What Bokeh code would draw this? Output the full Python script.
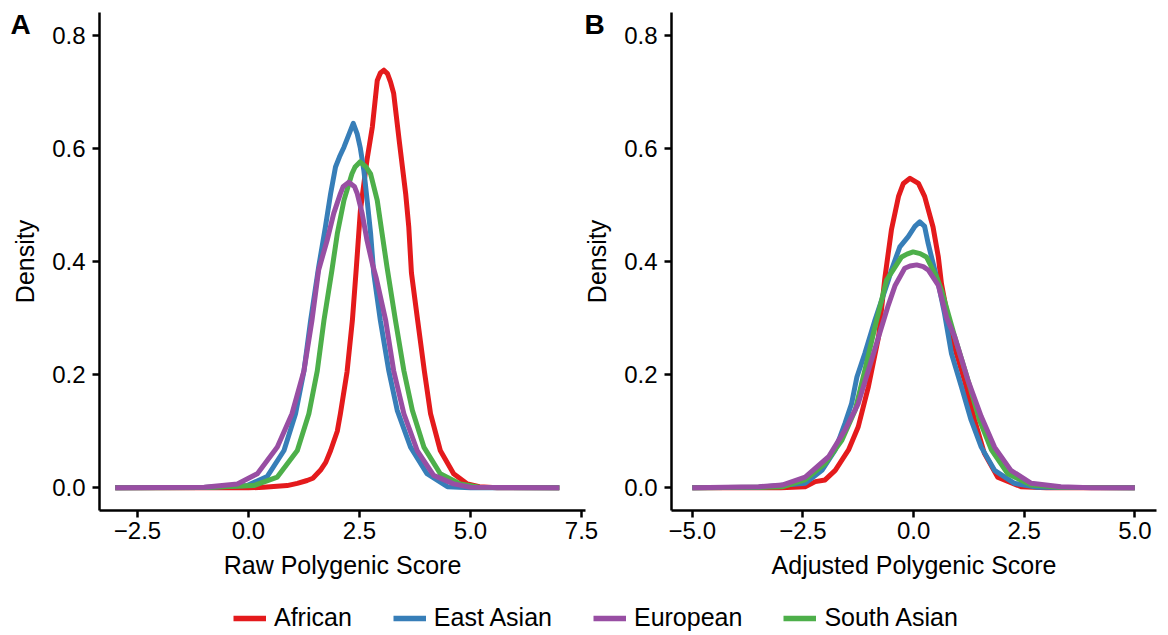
from bokeh.plotting import figure
from bokeh.models import Range1d, FixedTicker, Label, Legend, LegendItem
from bokeh.layouts import column, row
from bokeh.embed import file_html
from bokeh.resources import INLINE

groups = ["African", "East Asian", "European", "South Asian"]
colors = {"African": "#E41A1C", "East Asian": "#377EB8",
          "European": "#984EA3", "South Asian": "#4DAF4A"}
draw_order = ["African", "East Asian", "South Asian", "European"]

# ---- Panel A: raw polygenic score densities ----
raw_x_african = [-3.0, -1.0, 0.0, 0.34, 0.87, 1.1, 1.32, 1.45, 1.62, 1.74, 1.85, 2.0, 2.07, 2.22,
                 2.34, 2.43, 2.52, 2.67, 2.79, 2.9, 2.97, 3.05, 3.13, 3.2, 3.27, 3.4, 3.54, 3.61,
                 3.67, 3.81, 3.96, 4.1, 4.32, 4.62, 4.93, 5.2, 5.6, 7.0]
raw_y_african = [0.0, 0.0, 0.0, 0.001, 0.004, 0.008, 0.013, 0.017, 0.031, 0.045, 0.066, 0.10, 0.131,
                 0.205, 0.296, 0.39, 0.49, 0.58, 0.638, 0.72, 0.733, 0.738, 0.732, 0.717, 0.697,
                 0.61, 0.52, 0.461, 0.38, 0.296, 0.207, 0.131, 0.066, 0.025, 0.007, 0.002, 0.0, 0.0]

raw_x_east_asian = [-3.0, -1.0, -0.03, 0.42, 0.8, 1.06, 1.25, 1.4, 1.58, 1.73, 1.85, 1.96, 2.05,
                    2.15, 2.36, 2.45, 2.52, 2.6, 2.67, 2.75, 2.82, 2.97, 3.16, 3.35, 3.65, 4.02,
                    4.48, 5.0, 7.0]
raw_y_east_asian = [0.0, 0.0005, 0.004, 0.02, 0.066, 0.131, 0.207, 0.296, 0.39, 0.46, 0.52, 0.567,
                    0.585, 0.602, 0.644, 0.625, 0.60, 0.56, 0.51, 0.45, 0.38, 0.296, 0.207, 0.137,
                    0.072, 0.025, 0.002, 0.0, 0.0]

raw_x_european = [-3.0, -1.0, -0.25, 0.2, 0.65, 0.98, 1.25, 1.43, 1.58, 1.77, 1.92, 2.07, 2.13,
                  2.26, 2.39, 2.45, 2.56, 2.67, 2.79, 2.88, 3.09, 3.27, 3.5, 3.8, 4.17, 4.62, 5.0,
                  7.0]
raw_y_european = [0.0, 0.001, 0.007, 0.025, 0.072, 0.131, 0.207, 0.296, 0.385, 0.437, 0.485, 0.52,
                  0.532, 0.54, 0.532, 0.52, 0.485, 0.437, 0.396, 0.37, 0.296, 0.207, 0.131, 0.066,
                  0.022, 0.007, 0.001, 0.0]

raw_x_south_asian = [-3.0, -1.0, 0.12, 0.65, 1.1, 1.36, 1.55, 1.7, 1.88, 2.0, 2.15, 2.33, 2.4,
                     2.51, 2.65, 2.75, 2.9, 3.01, 3.12, 3.31, 3.5, 3.69, 3.95, 4.32, 4.77, 5.2, 7.0]
raw_y_south_asian = [0.0, 0.0005, 0.004, 0.019, 0.066, 0.131, 0.207, 0.296, 0.385, 0.449, 0.508,
                     0.555, 0.567, 0.576, 0.567, 0.555, 0.508, 0.449, 0.39, 0.296, 0.207, 0.137,
                     0.072, 0.025, 0.007, 0.001, 0.0]

# ---- Panel B: adjusted polygenic score densities ----
adj_x_african = [-5.0, -3.0, -2.45, -2.22, -2.0, -1.77, -1.47, -1.25, -1.02, -0.79, -0.65, -0.5,
                 -0.34, -0.23, -0.08, 0.11, 0.25, 0.44, 0.56, 0.63, 0.855, 1.15, 1.38, 1.6, 1.9,
                 2.43, 3.0, 5.0]
adj_y_african = [0.0, 0.0, 0.002, 0.011, 0.014, 0.031, 0.067, 0.108, 0.179, 0.267, 0.37, 0.456,
                 0.515, 0.538, 0.547, 0.538, 0.515, 0.461, 0.408, 0.361, 0.267, 0.19, 0.12, 0.061,
                 0.019, 0.002, 0.0, 0.0]

adj_x_east_asian = [-5.0, -3.5, -2.45, -2.07, -1.77, -1.55, -1.4, -1.28, -1.1, -0.87, -0.57, -0.5,
                    -0.31, -0.12, 0.03, 0.14, 0.25, 0.33, 0.44, 0.56, 0.7, 0.855, 1.08, 1.3, 1.53,
                    1.83, 2.28, 2.8, 5.0]
adj_y_east_asian = [0.0, 0.001, 0.008, 0.031, 0.067, 0.114, 0.149, 0.196, 0.238, 0.297, 0.367, 0.385,
                    0.426, 0.444, 0.462, 0.47, 0.462, 0.432, 0.397, 0.361, 0.308, 0.238, 0.179, 0.12,
                    0.072, 0.031, 0.008, 0.001, 0.0]

adj_x_european = [-5.0, -3.5, -2.97, -2.45, -1.92, -1.55, -1.25, -1.02, -0.79, -0.57, -0.42, -0.2,
                  -0.08, 0.07, 0.22, 0.33, 0.56, 0.75, 0.93, 1.23, 1.53, 1.83, 2.2, 2.66, 3.33, 4.0,
                  5.0]
adj_y_european = [0.0, 0.002, 0.005, 0.019, 0.055, 0.102, 0.149, 0.208, 0.267, 0.323, 0.357, 0.388,
                  0.392, 0.394, 0.391, 0.385, 0.358, 0.30, 0.267, 0.19, 0.126, 0.072, 0.031, 0.008,
                  0.002, 0.0, 0.0]

adj_x_south_asian = [-5.0, -3.5, -2.97, -2.45, -2.0, -1.62, -1.32, -1.1, -0.87, -0.61, -0.46, -0.27,
                     -0.15, -0.01, 0.15, 0.29, 0.52, 0.63, 0.93, 1.23, 1.49, 1.76, 2.13, 2.66, 3.3,
                     5.0]
adj_y_south_asian = [0.0, 0.001, 0.002, 0.014, 0.043, 0.084, 0.137, 0.208, 0.285, 0.367, 0.385,
                     0.408, 0.413, 0.417, 0.414, 0.408, 0.373, 0.35, 0.267, 0.19, 0.12, 0.067, 0.025,
                     0.005, 0.001, 0.0]

raw_series = {"African": (raw_x_african, raw_y_african),
              "East Asian": (raw_x_east_asian, raw_y_east_asian),
              "European": (raw_x_european, raw_y_european),
              "South Asian": (raw_x_south_asian, raw_y_south_asian)}
adj_series = {"African": (adj_x_african, adj_y_african),
              "East Asian": (adj_x_east_asian, adj_y_east_asian),
              "European": (adj_x_european, adj_y_european),
              "South Asian": (adj_x_south_asian, adj_y_south_asian)}

y_ticks = [0.0, 0.2, 0.4, 0.6, 0.8]
y_tick_labels = ["0.0", "0.2", "0.4", "0.6", "0.8"]
raw_ticks = [-2.5, 0.0, 2.5, 5.0, 7.5]
raw_tick_labels = ["\u22122.5", "0.0", "2.5", "5.0", "7.5"]
adj_ticks = [-5.0, -2.5, 0.0, 2.5, 5.0]
adj_tick_labels = ["\u22125.0", "\u22122.5", "0.0", "2.5", "5.0"]
panel_letters = ["A", "B"]

FONT = "Liberation Sans"
PANEL_H = 583


def style(p, xticks, xlabels, xtitle):
    p.xgrid.visible = False
    p.ygrid.visible = False
    p.outline_line_color = None
    p.background_fill_color = None
    p.border_fill_color = None
    p.xaxis.ticker = FixedTicker(ticks=xticks)
    p.xaxis.major_label_overrides = dict(zip(xticks, xlabels))
    p.yaxis.ticker = FixedTicker(ticks=y_ticks)
    p.yaxis.major_label_overrides = dict(zip(y_ticks, y_tick_labels))
    p.xaxis.axis_label = xtitle
    p.yaxis.axis_label = "Density"
    for ax in (p.xaxis[0], p.yaxis[0]):
        ax.axis_line_color = "black"
        ax.axis_line_width = 2.5
        ax.major_tick_line_color = "black"
        ax.major_tick_line_width = 2.5
        ax.major_tick_out = 7
        ax.major_tick_in = 0
        ax.minor_tick_out = 0
        ax.minor_tick_in = 0
        ax.major_label_text_font = FONT
        ax.major_label_text_font_size = "24px"
        ax.major_label_text_color = "black"
        ax.axis_label_text_font = FONT
        ax.axis_label_text_font_size = "25px"
        ax.axis_label_text_font_style = "normal"
        ax.axis_label_text_color = "black"
    p.xaxis.major_label_standoff = 4
    p.xaxis.axis_label_standoff = 9
    p.yaxis.major_label_standoff = 7
    p.yaxis.axis_label_standoff = 10


def panel(series, xr, xticks, xlabels, xtitle, width, bl, br):
    p = figure(width=width, height=PANEL_H, x_range=Range1d(*xr), y_range=Range1d(-0.04, 0.84),
               output_backend="svg", toolbar_location=None, title=None,
               min_border_left=bl, min_border_right=br, min_border_top=12, min_border_bottom=73)
    for g in draw_order:
        xs, ys = series[g]
        p.line(xs, ys, line_color=colors[g], line_width=5, line_join="round")
    style(p, xticks, xlabels, xtitle)
    return p


def letter_fig(letter, lx, margin):
    # transparent overlay strip that only carries the panel letter
    f = figure(width=40, height=PANEL_H, x_range=Range1d(0, 40), y_range=Range1d(0, PANEL_H),
               output_backend="svg", toolbar_location=None, title=None, min_border=0,
               min_border_top=0, min_border_bottom=0, min_border_left=0, min_border_right=0,
               x_axis_location=None, y_axis_location=None)
    f.xgrid.visible = False
    f.ygrid.visible = False
    f.outline_line_color = None
    f.background_fill_color = None
    f.border_fill_color = None
    f.margin = margin
    f.add_layout(Label(x=lx, y=PANEL_H - 14, text=letter, text_font=FONT, text_font_size="28px",
                       text_font_style="bold", text_color="black", text_baseline="alphabetic"))
    return f


pA = panel(raw_series, (-3.355, 7.59), raw_ticks, raw_tick_labels, "Raw Polygenic Score",
           608, 99, 23)
pB = panel(adj_series, (-5.47, 5.49), adj_ticks, adj_tick_labels, "Adjusted Polygenic Score",
           580, 89, 4)
fA = letter_fig(panel_letters[0], 10, (0, -40, 0, 0))
fB = letter_fig(panel_letters[1], 4, (0, -40, 0, -28))

pL = figure(width=1160, height=52, x_range=Range1d(0, 1), y_range=Range1d(0, 1),
            output_backend="svg", toolbar_location=None, title=None, min_border=0,
            x_axis_location=None, y_axis_location=None)
pL.xgrid.visible = False
pL.ygrid.visible = False
pL.outline_line_color = None
pL.background_fill_color = None
pL.border_fill_color = None
items = []
for g in groups:
    r = pL.line(x=[float("nan")], y=[float("nan")], line_color=colors[g], line_width=5.5)
    items.append(LegendItem(label=g, renderers=[r]))
leg = Legend(items=items, orientation="horizontal", location=(233, 3), padding=0, margin=0,
             spacing=41, glyph_width=33, glyph_height=20, label_standoff=8,
             label_text_font=FONT, label_text_font_size="25px", label_text_color="black",
             border_line_color=None, background_fill_alpha=0)
pL.add_layout(leg, "center")

layout = column(row(fA, pA, fB, pB), pL)
open("out.html", "w").write(file_html(layout, INLINE))
